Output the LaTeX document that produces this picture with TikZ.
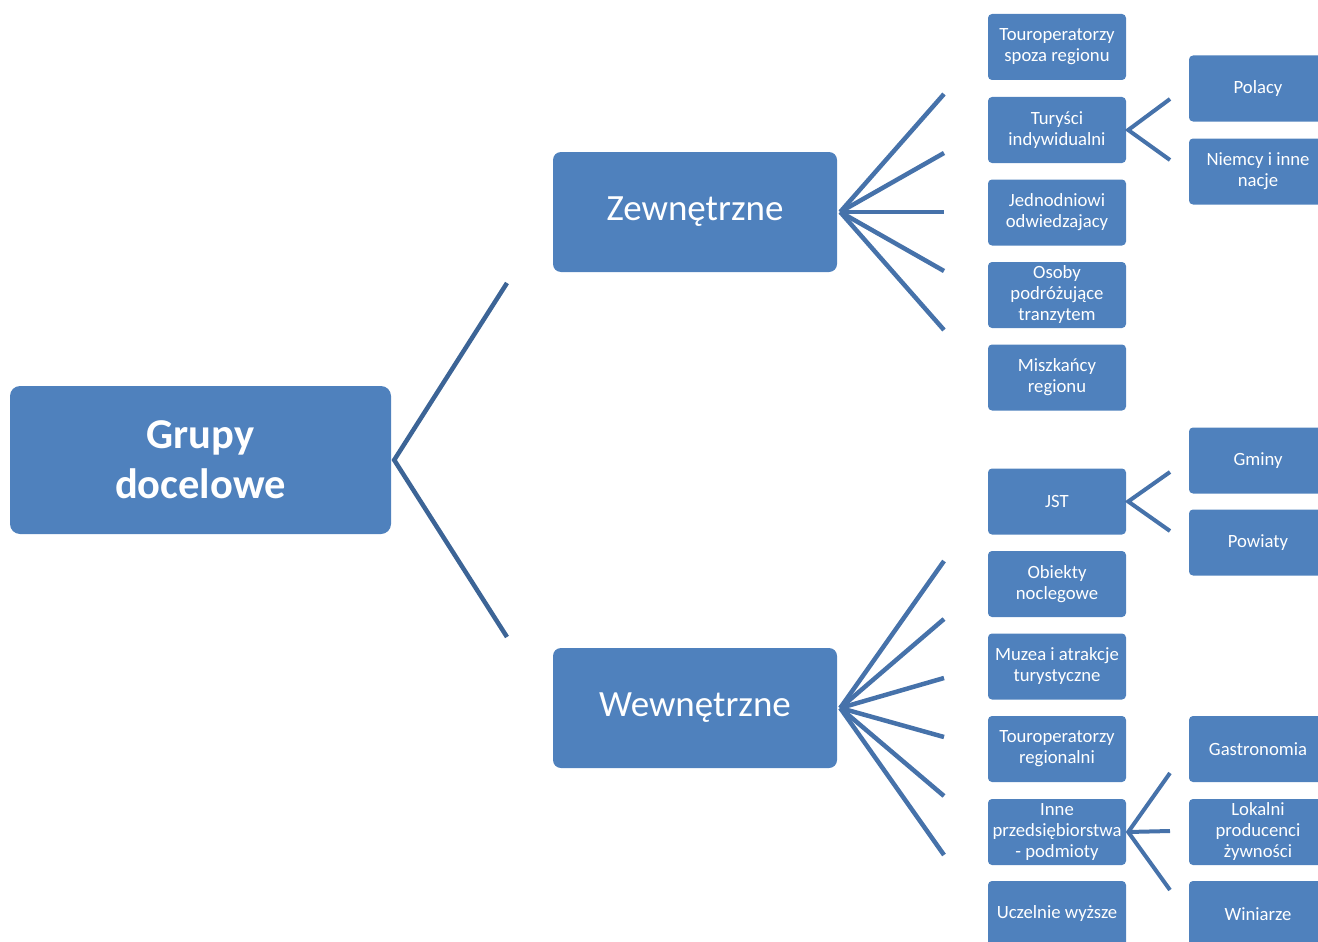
\documentclass[tikz,border=0pt]{standalone}
\usepackage{fontspec}
\setmainfont{Carlito}
\definecolor{boxblue}{RGB}{79,129,189}
\definecolor{linkblue}{RGB}{70,114,170}
\definecolor{rootlink}{RGB}{60,100,150}
\tikzset{
  base/.style={draw=none, fill=boxblue, text=white, align=center, rounded corners=4pt, inner sep=0pt},
  small/.style={base, minimum width=138pt, minimum height=66pt, font=\fontsize{18.7}{21}\selectfont},
  mid/.style={base, rounded corners=8pt, minimum width=284pt, minimum height=120pt, font=\fontsize{37}{40}\selectfont},
  rootbox/.style={base, rounded corners=10pt, minimum width=381pt, minimum height=148pt, font=\fontsize{42.5}{50}\selectfont\bfseries},
  link/.style={draw=linkblue, line width=4.5pt},
  rlink/.style={draw=rootlink, line width=4.5pt},
}
\begin{document}
\begin{tikzpicture}[x=1pt,y=-1pt]
\useasboundingbox (0,0) rectangle (1318,942);
\clip (0,0) rectangle (1318,942);
% main nodes
\node[rootbox] (root) at (200.5,460) {Grupy\\docelowe};
\node[mid] (zew) at (695,212) {Zewnętrzne};
\node[mid] (wew) at (695,708) {Wewnętrzne};
% middle column
\node[small] (tspoza) at (1057,47) {Touroperatorzy\\spoza regionu};
\node[small] (tind) at (1057,130) {Turyści\\indywidualni};
\node[small] (jedn) at (1057,212.5) {Jednodniowi\\odwiedzajacy};
\node[small] (osoby) at (1057,295) {Osoby\\podróżujące\\tranzytem};
\node[small] (misz) at (1057,377.5) {Miszkańcy\\regionu};
\node[small] (jst) at (1057,501.5) {JST};
\node[small] (obie) at (1057,584) {Obiekty\\noclegowe};
\node[small] (muz) at (1057,666.5) {Muzea i atrakcje\\turystyczne};
\node[small] (treg) at (1057,749) {Touroperatorzy\\regionalni};
\node[small] (inne) at (1057,832) {Inne\\przedsiębiorstwa\\- podmioty};
\node[small] (ucz) at (1057,914) {Uczelnie wyższe};
% right column
\node[small] (pol) at (1258,88.5) {Polacy};
\node[small] (niem) at (1258,171.5) {Niemcy i inne\\nacje};
\node[small] (gmi) at (1258,460.5) {Gminy};
\node[small] (pow) at (1258,542.5) {Powiaty};
\node[small] (gas) at (1258,749) {Gastronomia};
\node[small] (lok) at (1258,832) {Lokalni\\producenci\\żywności};
\node[small] (win) at (1258,914) {Winiarze};
% root bracket
\coordinate (ra) at ([xshift=3pt]root.east);
\coordinate (r1) at (507,283);
\coordinate (r2) at (507,637);
\draw[rlink] (r1) -- (ra) -- (r2);
% Zewnętrzne fan
\coordinate (za) at ([xshift=3pt]zew.east);
\foreach \y [count=\i] in {94,153,212,271,330} {
  \coordinate (z\i) at (944,\y);
  \draw[link] (za) -- (z\i);
}
% Wewnętrzne fan
\coordinate (wa) at ([xshift=3pt]wew.east);
\foreach \y [count=\i] in {561,619,678,737,796,855} {
  \coordinate (w\i) at (944,\y);
  \draw[link] (wa) -- (w\i);
}
% small brackets
\coordinate (ta) at ([xshift=2pt]tind.east);
\coordinate (t1) at (1170,99);
\coordinate (t2) at (1170,160);
\draw[link, line width=4pt] (t1) -- (ta) -- (t2);
\coordinate (ja) at ([xshift=2pt]jst.east);
\coordinate (j1) at (1170,472);
\coordinate (j2) at (1170,531);
\draw[link, line width=4pt] (j1) -- (ja) -- (j2);
\coordinate (ia) at ([xshift=2pt]inne.east);
\coordinate (i1) at (1170,773);
\coordinate (i2) at (1170,831);
\coordinate (i3) at (1170,890);
\draw[link, line width=4pt] (i1) -- (ia) -- (i3);
\draw[link, line width=4pt] (ia) -- (i2);
\end{tikzpicture}
\end{document}
